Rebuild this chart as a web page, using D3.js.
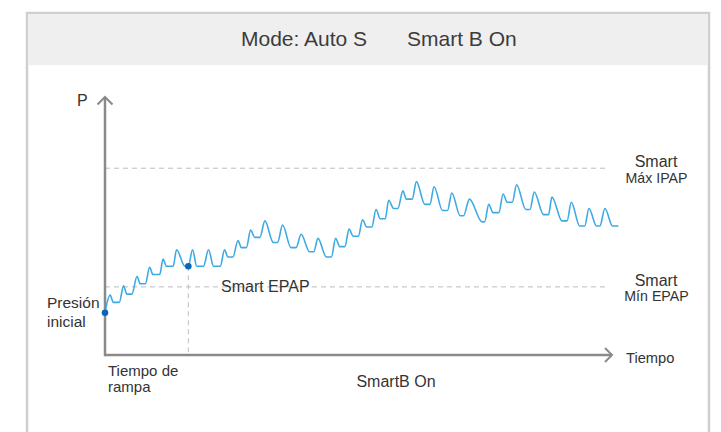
<!DOCTYPE html>
<html>
<head>
<meta charset="utf-8">
<script src="https://cdn.jsdelivr.net/npm/d3@7"></script>
<style>
  body { margin: 0; background: #fff; }
  svg { display: block; font-family: "Liberation Sans", Arial, sans-serif; }
</style>
</head>
<body>
<svg id="canvas"></svg>
<script>
// Pressure trace, one point per turn of the curve (time, pressure)
const timeS = [
  0, 0.6, 1.0, 1.7, 2.2, 2.6, 3.2, 3.8, 4.2, 4.8, 5.3, 5.7, 6.5, 6.9, 7.3, 8.1,
  8.5, 9.5, 9.9, 10.4, 10.9, 11.7, 12.3, 12.9, 13.7, 14.2, 14.6, 15.2, 15.8, 16.2, 16.8,
  17.3, 17.8, 18.4, 19.0, 20.0, 20.5, 21.1, 22.1, 22.7, 23.3, 24.3, 24.8, 25.3, 26.3, 26.9,
  27.4, 27.9, 28.5, 29.0, 29.5, 30.1, 30.6, 31.1, 31.7, 32.2, 32.7, 33.3, 33.7, 34.3, 34.8,
  35.4, 35.8, 36.5, 37.0, 38.0, 38.6, 39.1, 40.1, 40.7, 41.2, 42.2, 42.6, 43.3, 44.8, 45.1,
  45.6, 46.1, 46.8, 47.3, 47.8, 48.4, 48.9, 50.0, 50.5, 51.0, 52.1, 52.7, 53.1, 54.3, 54.9,
  55.4, 56.4, 57.0, 57.5, 58.4, 58.8, 59.4, 60.3, 61.0
];
const pressure = [
  4.1, 5.8, 5.1, 5.1, 6.7, 5.9, 5.9, 7.6, 6.9, 6.9, 8.5, 7.8, 7.8, 9.3, 8.6, 8.6,
  10.2, 8.6, 8.6, 10.2, 8.6, 8.6, 10.2, 8.6, 8.6, 10.2, 9.5, 9.5, 11.1, 10.4, 10.4,
  12.1, 11.4, 11.4, 13.0, 10.9, 10.9, 12.6, 10.4, 10.4, 11.7, 10.0, 10.0, 11.3, 9.5, 9.5,
  11.3, 10.5, 10.5, 12.2, 11.5, 11.5, 13.1, 12.4, 12.4, 14.1, 13.2, 13.2, 15.0, 14.2, 14.2,
  15.9, 15.1, 15.1, 16.8, 14.6, 14.6, 16.3, 14.0, 14.0, 15.7, 13.5, 13.5, 15.1, 12.9, 12.9,
  14.6, 13.8, 13.8, 15.6, 14.8, 14.8, 16.5, 14.1, 14.1, 15.8, 13.6, 13.6, 15.3, 13.0, 13.0,
  14.8, 12.5, 12.5, 14.2, 12.5, 12.5, 14.2, 12.5, 12.5
];

// Reference levels drawn as dashed lines
const levelValues = [18.1, 6.6];
const levelTitles = ["Smart", "Smart"];
const levelNames = ["Máx IPAP", "Mín EPAP"];

// Marked points: initial pressure and end of ramp
const markerTimes = [0, 9.9];
const markerPressures = [4.1, 8.6];
const rampTime = 9.9;

const width = 721;
const height = 432;

const svg = d3.select("#canvas")
  .attr("width", width)
  .attr("height", height);

// Scales
const xScale = d3.scaleLinear().domain([0, 60]).range([105, 610]);
const yScale = d3.scaleLinear().domain([0, 25]).range([355, 97]);

// Frame and header band
svg.append("rect")
  .attr("x", 27).attr("y", 13)
  .attr("width", 682).attr("height", 440)
  .attr("fill", "#fff")
  .attr("stroke", "#cfcfcf")
  .attr("stroke-width", 2.5);
svg.append("rect")
  .attr("x", 28.25).attr("y", 14.25)
  .attr("width", 679.5).attr("height", 51)
  .attr("fill", "#efefef");

const title = svg.append("text")
  .attr("y", 46)
  .attr("font-size", 21)
  .attr("fill", "#3c3c3c");
title.append("tspan").attr("x", 241).text("Mode: Auto S");
title.append("tspan").attr("x", 407).text("Smart B On");

// Dashed level lines
svg.selectAll(".level")
  .data(levelValues)
  .enter()
  .append("line")
  .attr("class", "level")
  .attr("x1", xScale(0))
  .attr("x2", xScale(60) - 1)
  .attr("y1", d => yScale(d))
  .attr("y2", d => yScale(d))
  .attr("stroke", "#bdbdbd")
  .attr("stroke-width", 1)
  .attr("stroke-dasharray", "5,4");

// Vertical dashed line at end of ramp
svg.append("line")
  .attr("x1", xScale(rampTime)).attr("x2", xScale(rampTime))
  .attr("y1", yScale(markerPressures[1])).attr("y2", yScale(0))
  .attr("stroke", "#bdbdbd")
  .attr("stroke-width", 1)
  .attr("stroke-dasharray", "5,4");

// Axes with open arrowheads
const axisColor = "#8a8a8a";
const x0 = xScale(0), y0 = yScale(0);
const xEnd = xScale(60) + 2, yEnd = yScale(25);
svg.append("line")
  .attr("x1", x0).attr("y1", y0).attr("x2", xEnd).attr("y2", y0)
  .attr("stroke", axisColor).attr("stroke-width", 2.5);
svg.append("line")
  .attr("x1", x0).attr("y1", y0 + 1.25).attr("x2", x0).attr("y2", yEnd)
  .attr("stroke", axisColor).attr("stroke-width", 2.5);
svg.append("path")
  .attr("d", `M${xEnd - 7},${y0 - 7}L${xEnd},${y0}L${xEnd - 7},${y0 + 7}`)
  .attr("fill", "none").attr("stroke", axisColor).attr("stroke-width", 2);
svg.append("path")
  .attr("d", `M${x0 - 7.5},${yEnd + 7.5}L${x0},${yEnd}L${x0 + 7.5},${yEnd + 7.5}`)
  .attr("fill", "none").attr("stroke", axisColor).attr("stroke-width", 2);

// Pressure curve
const trace = d3.zip(timeS, pressure);
const line = d3.line()
  .x(d => xScale(d[0]))
  .y(d => yScale(d[1]))
  .curve(d3.curveMonotoneX);
svg.append("path")
  .datum(trace)
  .attr("d", line)
  .attr("fill", "none")
  .attr("stroke", "#3eaae3")
  .attr("stroke-width", 1.6);

// Marker dots
svg.selectAll(".marker")
  .data(d3.zip(markerTimes, markerPressures))
  .enter()
  .append("circle")
  .attr("class", "marker")
  .attr("cx", d => xScale(d[0]))
  .attr("cy", d => yScale(d[1]))
  .attr("r", 3.3)
  .attr("fill", "#0b66b6");

// Text labels
const textColor = "#333";
const label = (x, y, size, txt, anchor = "start") =>
  svg.append("text")
    .attr("x", x).attr("y", y)
    .attr("font-size", size)
    .attr("text-anchor", anchor)
    .attr("fill", textColor)
    .text(txt);

label(77, 106, 16, "P");
label(626, 363, 14.7, "Tiempo");
label(221, 292, 16, "Smart EPAP");
label(47, 308, 15.5, "Presión");
label(47, 327, 15.5, "inicial");
label(108, 375.5, 15, "Tiempo de");
label(108, 392, 15, "rampa");
label(396, 387, 16, "SmartB On", "middle");

// Level labels on the right
levelValues.forEach((v, i) => {
  label(656, yScale(v) - 1, 16, levelTitles[i], "middle");
  label(656.5, yScale(v) + 14.5, 14.2, levelNames[i], "middle");
});
</script>
</body>
</html>
